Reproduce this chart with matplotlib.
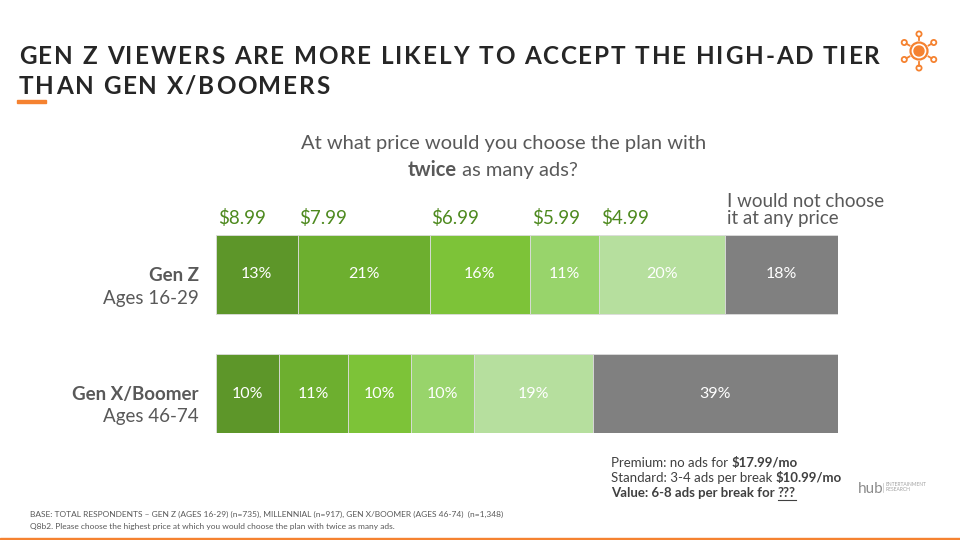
import numpy as np
import matplotlib
matplotlib.use("Agg")
import matplotlib.pyplot as plt
from matplotlib.patches import Circle, Rectangle
from matplotlib.lines import Line2D

# data
groups = ["Gen Z", "Gen X/Boomer"]
group_ages = ["Ages 16-29", "Ages 46-74"]
price_labels = ["$8.99", "$7.99", "$6.99", "$5.99", "$4.99", "I would not choose\nit at any price"]
gen_z = [13, 21, 16, 11, 20, 18]
gen_x = [10, 11, 10, 10, 19, 39]
values = [gen_z, gen_x]

colors = ["#5d9629", "#6daf2f", "#7dc338", "#98d46b", "#b6df9e", "#808080"]
ORANGE = "#f58230"
TXT = "#595959"
GREEN_TXT = "#4e8a1f"

plt.rcParams["font.family"] = ["Lato", "DejaVu Sans"]

W, H = 960, 540
fig = plt.figure(figsize=(9.6, 5.4), dpi=100)
renderer = fig.canvas.get_renderer()


def fx(x):
    return x / W


def fy(y):
    return 1 - y / H


def measure(s, **kw):
    t = fig.text(0, 0, "|" + s + "|", **kw)
    t2 = fig.text(0, 0, "||", **kw)
    w = t.get_window_extent(renderer).width - t2.get_window_extent(renderer).width
    t.remove()
    t2.remove()
    return w


def mixed(x, y, parts, **kw):
    # parts: list of (text, weight); x,y in pixels, baseline
    for s, wt in parts:
        fig.text(fx(x), fy(y), s, fontweight=wt, va="baseline", **kw)
        x += measure(s, fontweight=wt, **kw)
    return x


def spaced(x, y, s, target=None, spacing=3.0, **kw):
    widths = [measure(ch, **kw) for ch in s]
    if target is not None:
        spacing = (target - sum(widths)) / (len(s) - 1)
    for ch, w in zip(s, widths):
        fig.text(fx(x), fy(y), ch, va="baseline", **kw)
        x += w + spacing
    return spacing


# title
tkw = dict(fontsize=17.5, fontweight="bold", color="#262626", family=["Lato", "DejaVu Sans"])
sp = spaced(19, 64, "GEN Z VIEWERS ARE MORE LIKELY TO ACCEPT THE HIGH-AD TIER", target=861, **tkw)
spaced(19, 94, "THAN GEN X/BOOMERS", spacing=sp, **tkw)
fig.add_artist(Rectangle((fx(17), fy(103)), 29 / W, 3 / H, color=ORANGE, transform=fig.transFigure))

# icon
iax = fig.add_axes([fx(894), fy(76), 50 / W, 50 / H])
iax.set_xlim(-25, 25)
iax.set_ylim(-25, 25)
iax.set_aspect("equal")
iax.axis("off")
iax.add_patch(Circle((0, 0), 8.5, fill=False, ec=ORANGE, lw=1.6))
iax.add_patch(Circle((0, 0), 5, color=ORANGE))
for a in np.deg2rad([90, 30, -30, -90, 210, 150]):
    cx, cy = 17 * np.cos(a), 17 * np.sin(a)
    iax.add_patch(Circle((cx, cy), 2.6, fill=False, ec=ORANGE, lw=1.3))
    iax.plot([11 * np.cos(a), 14.5 * np.cos(a)], [11 * np.sin(a), 14.5 * np.sin(a)], color=ORANGE, lw=1.3)

# question
fig.text(fx(504), fy(149), "At what price would you choose the plan with", ha="center",
         va="baseline", fontsize=14.5, color=TXT)
mixed(408, 176, [("twice", "bold"), (" as many ads?", "normal")], fontsize=14.5, color=TXT)

# bars
ax = fig.add_axes([fx(216), fy(433), 622 / W, 198 / H])
bar_h = 79 / 119
ax.set_ylim(1 + bar_h / 2, -bar_h / 2)
ax.set_xlim(0, sum(gen_z))
ax.axis("off")
for i, vals in enumerate(values):
    left = 0
    for j, v in enumerate(vals):
        ax.barh(i, v, left=left, height=bar_h, color=colors[j], edgecolor="#dcdcdc", linewidth=0.6)
        ax.text(left + v / 2, i, f"{v}%", ha="center", va="center", color="white", fontsize=11.5)
        left += v

starts = np.concatenate([[0], np.cumsum(gen_z)[:-1]])
for j, (s, lab) in enumerate(zip(starts, price_labels)):
    col = GREEN_TXT if j < len(price_labels) - 1 else TXT
    ax.text(s + 0.3, -bar_h / 2 - 0.07, lab, ha="left", va="bottom", color=col,
            fontsize=13.5, clip_on=False, linespacing=1.0)

# row labels
fig.text(fx(199), fy(281), groups[0], ha="right", va="baseline", fontsize=13.5, fontweight="bold", color=TXT)
fig.text(fx(199), fy(304), group_ages[0], ha="right", va="baseline", fontsize=13.5, color=TXT)
fig.text(fx(199), fy(400), groups[1], ha="right", va="baseline", fontsize=13.5, fontweight="bold", color=TXT)
fig.text(fx(199), fy(422), group_ages[1], ha="right", va="baseline", fontsize=13.5, color=TXT)

# plan notes
nkw = dict(fontsize=9.5, color="#404040")
mixed(611, 467, [("Premium: no ads for ", "normal"), ("$17.99/mo", "bold")], **nkw)
mixed(611, 482, [("Standard: 3-4 ads per break ", "normal"), ("$10.99/mo", "bold")], **nkw)
xq0 = mixed(611, 497, [("Value: 6-8 ads per break for ", "bold")], **nkw)
xq1 = mixed(xq0, 497, [("???", "bold")], **nkw)
fig.add_artist(Line2D([fx(xq0), fx(xq1)], [fy(499.5), fy(499.5)], color="#404040", lw=0.8,
                      transform=fig.transFigure))

# logo
fig.text(fx(858), fy(493), "hub", fontsize=11, color="#8c8c8c", va="baseline")
fig.text(fx(886), fy(487), "ENTERTAINMENT\nRESEARCH", fontsize=3.5, color="#a0a0a0", va="center",
         linespacing=1.0)
fig.add_artist(Line2D([fx(883), fx(883)], [fy(483), fy(492)], color="#c0c0c0", lw=0.5,
                      transform=fig.transFigure))

# footnotes
fkw = dict(fontsize=6, color=TXT, va="baseline")
fig.text(fx(30), fy(517), "BASE: TOTAL RESPONDENTS \u2013 GEN Z (AGES 16-29) (n=735), MILLENNIAL (n=917), "
         "GEN X/BOOMER (AGES 46-74)  (n=1,348)", **fkw)
fig.text(fx(30), fy(529), "Q8b2. Please choose the highest price at which you would choose the plan "
         "with twice as many ads.", **fkw)

fig.add_artist(Rectangle((0, 0), 1, 2.5 / H, color=ORANGE, transform=fig.transFigure))

fig.savefig("out.png", dpi=100)
